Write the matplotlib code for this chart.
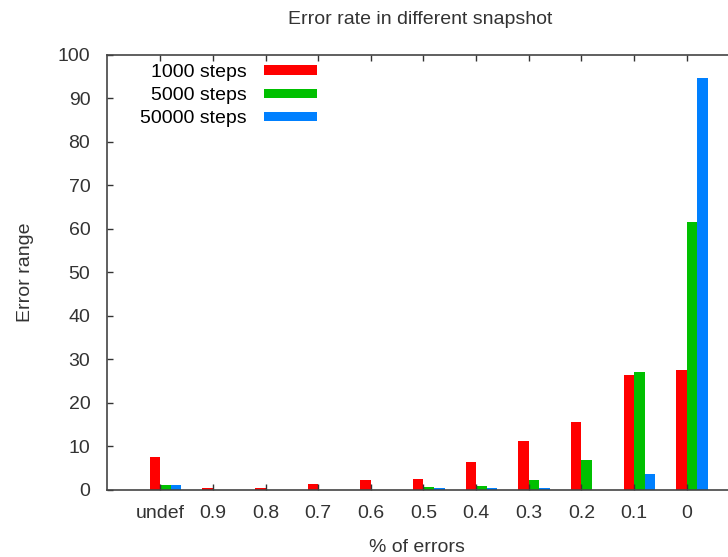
import matplotlib.pyplot as plt
import numpy as np
from matplotlib.patches import Patch

plt.rcParams['font.family'] = ['Liberation Sans', 'DejaVu Sans']
plt.rcParams['font.size'] = 14

# данные
categories = ['undef', '0.9', '0.8', '0.7', '0.6', '0.5', '0.4', '0.3', '0.2', '0.1', '0']
steps_1000 = [7.6, 0.4, 0.4, 1.3, 2.4, 2.6, 6.5, 11.2, 15.6, 26.4, 27.6]
steps_5000 = [1.2, 0.0, 0.0, 0.0, 0.0, 0.7, 0.9, 2.4, 6.8, 27.2, 61.7]
steps_50000 = [1.2, 0.0, 0.0, 0.0, 0.0, 0.4, 0.4, 0.4, 0.0, 3.7, 94.6]
series_names = ['1000 steps', '5000 steps', '50000 steps']
colors = ['#ff0000', '#00c000', '#0080ff']

fig = plt.figure(figsize=(7.28, 5.57), dpi=100)
# правая граница уходит за край картинки
ax = fig.add_axes([0.147, 0.1203, 0.86, 0.781])

x = np.arange(len(categories))
w = 0.2
for i, vals in enumerate([steps_1000, steps_5000, steps_50000]):
    ax.bar(x + (i - 0.5) * w, vals, width=w, color=colors[i], linewidth=0)

ax.set_xlim(-1.01, 10.88)
ax.set_ylim(0, 100)
ax.set_yticks(range(0, 101, 10))
ax.set_xticks(x)
ax.set_xticklabels(categories)

ax.tick_params(direction='in', length=4, width=1, colors='#333333', labelcolor='#333333')
ax.tick_params(axis='x', top=True, pad=11)
ax.tick_params(axis='y', pad=12)
for side in ['left', 'bottom', 'top', 'right']:
    ax.spines[side].set_color('#444444')
    ax.spines[side].set_linewidth(1.2)

ax.set_title('Error rate in different snapshot', fontsize=14, pad=22, color='#333333')
ax.set_xlabel('% of errors', color='#333333')
ax.set_ylabel('Error range', color='#333333')
ax.xaxis.set_label_coords(0.4955, -0.112)
ax.yaxis.set_label_coords(-0.117, 0.5)

handles = [Patch(facecolor=c, edgecolor='none') for c in colors]
ax.legend(handles, series_names, loc='upper left', bbox_to_anchor=(0.0525, 0.979),
          markerfirst=False, frameon=False, borderpad=0, borderaxespad=0,
          handlelength=2.73, handleheight=0.36, handletextpad=0.88, labelspacing=0.31)

fig.savefig('out.png', dpi=100)
